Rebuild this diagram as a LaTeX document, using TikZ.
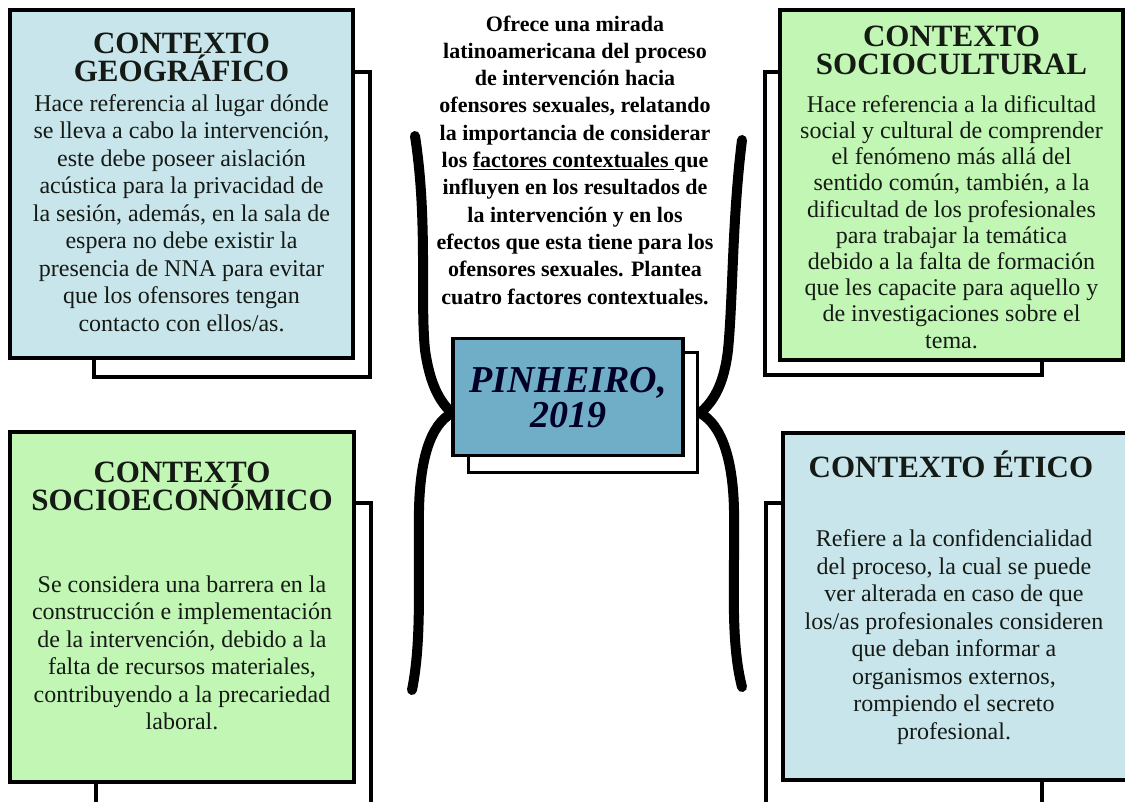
\documentclass[tikz,border=0pt]{standalone}
\usepackage{fontspec}
\setmainfont{Liberation Serif}
\definecolor{lblue}{HTML}{C8E5EB}
\definecolor{lgreen}{HTML}{C2F6B4}
\definecolor{cblue}{HTML}{70ADC7}
\definecolor{ink}{HTML}{151A15}
\begin{document}
\begin{tikzpicture}[x=1pt,y=-1pt,
  boxline/.style={draw=black,line width=4pt},
  shadowbox/.style={boxline,fill=white},
  titletxt/.style={align=center,text=ink,font=\fontsize{31}{28}\selectfont\bfseries,inner sep=0pt},
  bodytxt/.style={align=center,text=ink,font=\fontsize{24}{27.5}\selectfont,inner sep=0pt},
  curve/.style={line width=10pt,line cap=round}]
\useasboundingbox (0,0) rectangle (1125,802);
\clip (0,0) rectangle (1125,802);
% curves
\coordinate (ul0) at (415,136);
\coordinate (ur0) at (742,140);
\coordinate (lp) at (452,413);
\coordinate (rp) at (700,413);
\coordinate (ll1) at (412,690);
\coordinate (lr1) at (742,687);
\draw[curve] (ul0) .. controls (428,220) and (420,300) .. (425,350) .. controls (430,385) and (440,402) .. (lp);
\draw[curve] (lp) .. controls (430,425) and (420,460) .. (419,510) .. controls (418,580) and (422,640) .. (ll1);
\draw[curve] (ur0) .. controls (732,220) and (733,300) .. (728,350) .. controls (724,385) and (713,402) .. (rp);
\draw[curve] (rp) .. controls (722,425) and (733,460) .. (734,510) .. controls (735,580) and (730,640) .. (lr1);
% top-left box
\draw[shadowbox] (94,72) rectangle (370,377);
\node[boxline,fill=lblue,minimum width=343pt,minimum height=348pt,inner sep=0pt] (geo) at (181.5,184) {};
\node[titletxt] (geot) at (181.5,57) {CONTEXTO\\GEOGRÁFICO};
\node[bodytxt] (geob) at (181.5,213) {Hace referencia al lugar dónde\\se lleva a cabo la intervención,\\este debe poseer aislación\\acústica para la privacidad de\\la sesión, además, en la sala de\\espera no debe existir la\\presencia de NNA para evitar\\que los ofensores tengan\\contacto con ellos/as.};
% top-right box
\draw[shadowbox] (765,72) rectangle (1042,375);
\node[boxline,fill=lgreen,minimum width=343pt,minimum height=350pt,inner sep=0pt] (soc) at (951.5,185) {};
\node[titletxt] (soct) at (951.5,50) {CONTEXTO\\SOCIOCULTURAL};
\node[bodytxt,font=\fontsize{24}{26.2}\selectfont] (socb) at (951.5,222) {Hace referencia a la dificultad\\social y cultural de comprender\\el fenómeno más allá del\\sentido común, también, a la\\dificultad de los profesionales\\para trabajar la temática\\debido a la falta de formación\\que les capacite para aquello y\\de investigaciones sobre el\\tema.};
% bottom-left box
\draw[shadowbox] (96,503) rectangle (371,860);
\node[boxline,fill=lgreen,minimum width=344pt,minimum height=350pt,inner sep=0pt] (eco) at (182,607) {};
\node[titletxt] (ecot) at (182,486) {CONTEXTO\\SOCIOECONÓMICO};
\node[bodytxt] (ecob) at (182,653) {Se considera una barrera en la\\construcción e implementación\\de la intervención, debido a la\\falta de recursos materiales,\\contribuyendo a la precariedad\\laboral.};
% bottom-right box
\draw[shadowbox] (766,503) rectangle (1042,860);
\node[boxline,fill=lblue,minimum width=347pt,minimum height=347pt,inner sep=0pt] (eti) at (956.5,606.5) {};
\node[titletxt] (etit) at (951,464) {CONTEXTO ÉTICO};
\node[bodytxt] (etib) at (954,637) {Refiere a la confidencialidad\\del proceso, la cual se puede\\ver alterada en caso de que\\los/as profesionales consideren\\que deban informar a\\organismos externos,\\rompiendo el secreto\\profesional.};
% center
\draw[boxline,fill=white,line width=3pt] (468,353) rectangle (697,472);
\node[boxline,fill=cblue,line width=3.5pt,minimum width=230pt,minimum height=117pt,inner sep=0pt] (pin) at (568,397) {};
\node[align=center,inner sep=0pt,text=black!85!blue,font=\fontsize{38}{35}\selectfont\bfseries\itshape] (pint) at (568,398) {PINHEIRO,\\2019};
\node[align=center,inner sep=0pt,font=\fontsize{22}{27.3}\selectfont\bfseries] (intro) at (575,160) {Ofrece una mirada\\latinoamericana del proceso\\de intervención hacia\\ofensores sexuales, relatando\\la importancia de considerar\\los \underline{factores contextuales\ }que\\influyen en los resultados de\\la intervención y en los\\efectos que esta tiene para los\\ofensores sexuales. Plantea\\cuatro factores contextuales.};
\end{tikzpicture}
\end{document}
